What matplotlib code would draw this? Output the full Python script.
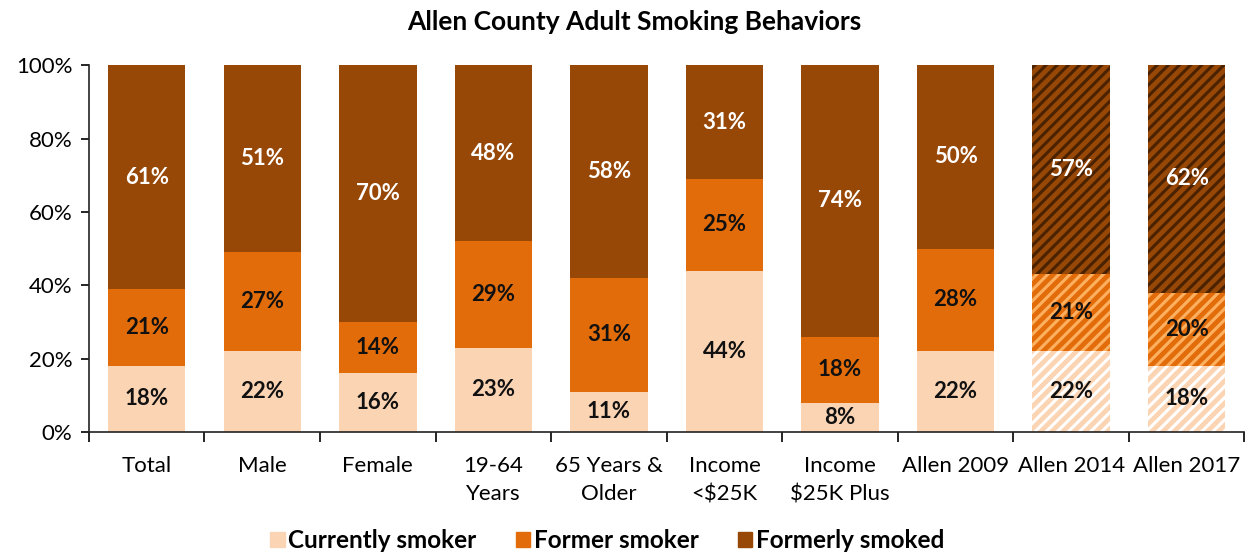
"""Allen County adult smoking behaviors: stacked 100% bars."""
import matplotlib
matplotlib.use("Agg")
import matplotlib.pyplot as plt
import matplotlib.patches as mpatches
import numpy as np

CATEGORIES = ["Total", "Male", "Female", "19-64\nYears", "65 Years &\nOlder",
              "Income\n<$25K", "Income\n$25K Plus", "Allen 2009", "Allen 2014",
              "Allen 2017"]
CURRENT = [18, 22, 16, 23, 11, 44, 8, 22, 22, 18]
FORMER = [21, 27, 14, 29, 31, 25, 18, 28, 21, 20]
FORMERLY = [61, 51, 70, 48, 58, 31, 74, 50, 57, 62]
HATCHED = [False] * 8 + [True, True]

SERIES = [
    ("Currently smoker", CURRENT, "#FBD4B4", "#FFFFFF", "#111111"),
    ("Former smoker", FORMER, "#E36C0A", "#FDB060", "#111111"),
    ("Formerly smoked", FORMERLY, "#974706", "#4A2200", "#FFFFFF"),
]

FONT = ["Lato", "DejaVu Sans"]


def main() -> None:
    plt.rcParams["font.family"] = FONT
    plt.rcParams["hatch.linewidth"] = 2.2
    fig = plt.figure(figsize=(12.52, 5.57), dpi=100)
    ax = fig.add_axes([0.071, 0.2244, 0.923, 0.6586])

    x = np.arange(len(CATEGORIES))
    bottom = np.zeros(len(CATEGORIES))
    width = 0.67
    for name, vals, color, hcolor, tcolor in SERIES:
        vals = np.array(vals) / 100.0
        for i, v in enumerate(vals):
            if HATCHED[i]:
                ax.bar(x[i], v, width, bottom=bottom[i], color=color,
                       edgecolor=hcolor, linewidth=0, hatch="///")
            else:
                ax.bar(x[i], v, width, bottom=bottom[i], color=color,
                       linewidth=0)
            ax.text(x[i], bottom[i] + v / 2, f"{round(v * 100)}%",
                    ha="center", va="center", fontsize=16,
                    fontweight="bold", color=tcolor)
        bottom += vals

    ax.set_xlim(-0.5, len(CATEGORIES) - 0.5)
    ax.set_ylim(0, 1)
    ax.set_yticks(np.linspace(0, 1, 6))
    ax.set_yticklabels([f"{int(t * 100)}%" for t in np.linspace(0, 1, 6)],
                       fontsize=16)
    ax.tick_params(axis="y", length=6, width=1.2, pad=6)
    ax.set_xticks(x)
    ax.set_xticklabels(CATEGORIES, fontsize=16, linespacing=1.55)
    ax.tick_params(axis="x", which="major", length=0, pad=17)
    ax.set_xticks(np.arange(-0.5, len(CATEGORIES)), minor=True)
    ax.tick_params(axis="x", which="minor", length=7, width=1.2)
    for s in ("top", "right"):
        ax.spines[s].set_visible(False)
    for s in ("left", "bottom"):
        ax.spines[s].set_linewidth(1.2)
        ax.spines[s].set_color("#222222")

    fig.text(0.507, 0.96, "Allen County Adult Smoking Behaviors", ha="center",
             va="center", fontsize=19, fontweight="bold")

    handles = [mpatches.Patch(color=c, label=n) for n, _, c, _, _ in SERIES]
    fig.legend(handles=handles, loc="center", bbox_to_anchor=(0.485, 0.03),
               ncol=3, frameon=False, handlelength=0.6, handleheight=0.6,
               handletextpad=0.15, columnspacing=1.6,
               prop={"family": FONT, "size": 17.5, "weight": "bold"})

    fig.savefig("out.png", dpi=100)
    plt.close(fig)


if __name__ == "__main__":
    main()
